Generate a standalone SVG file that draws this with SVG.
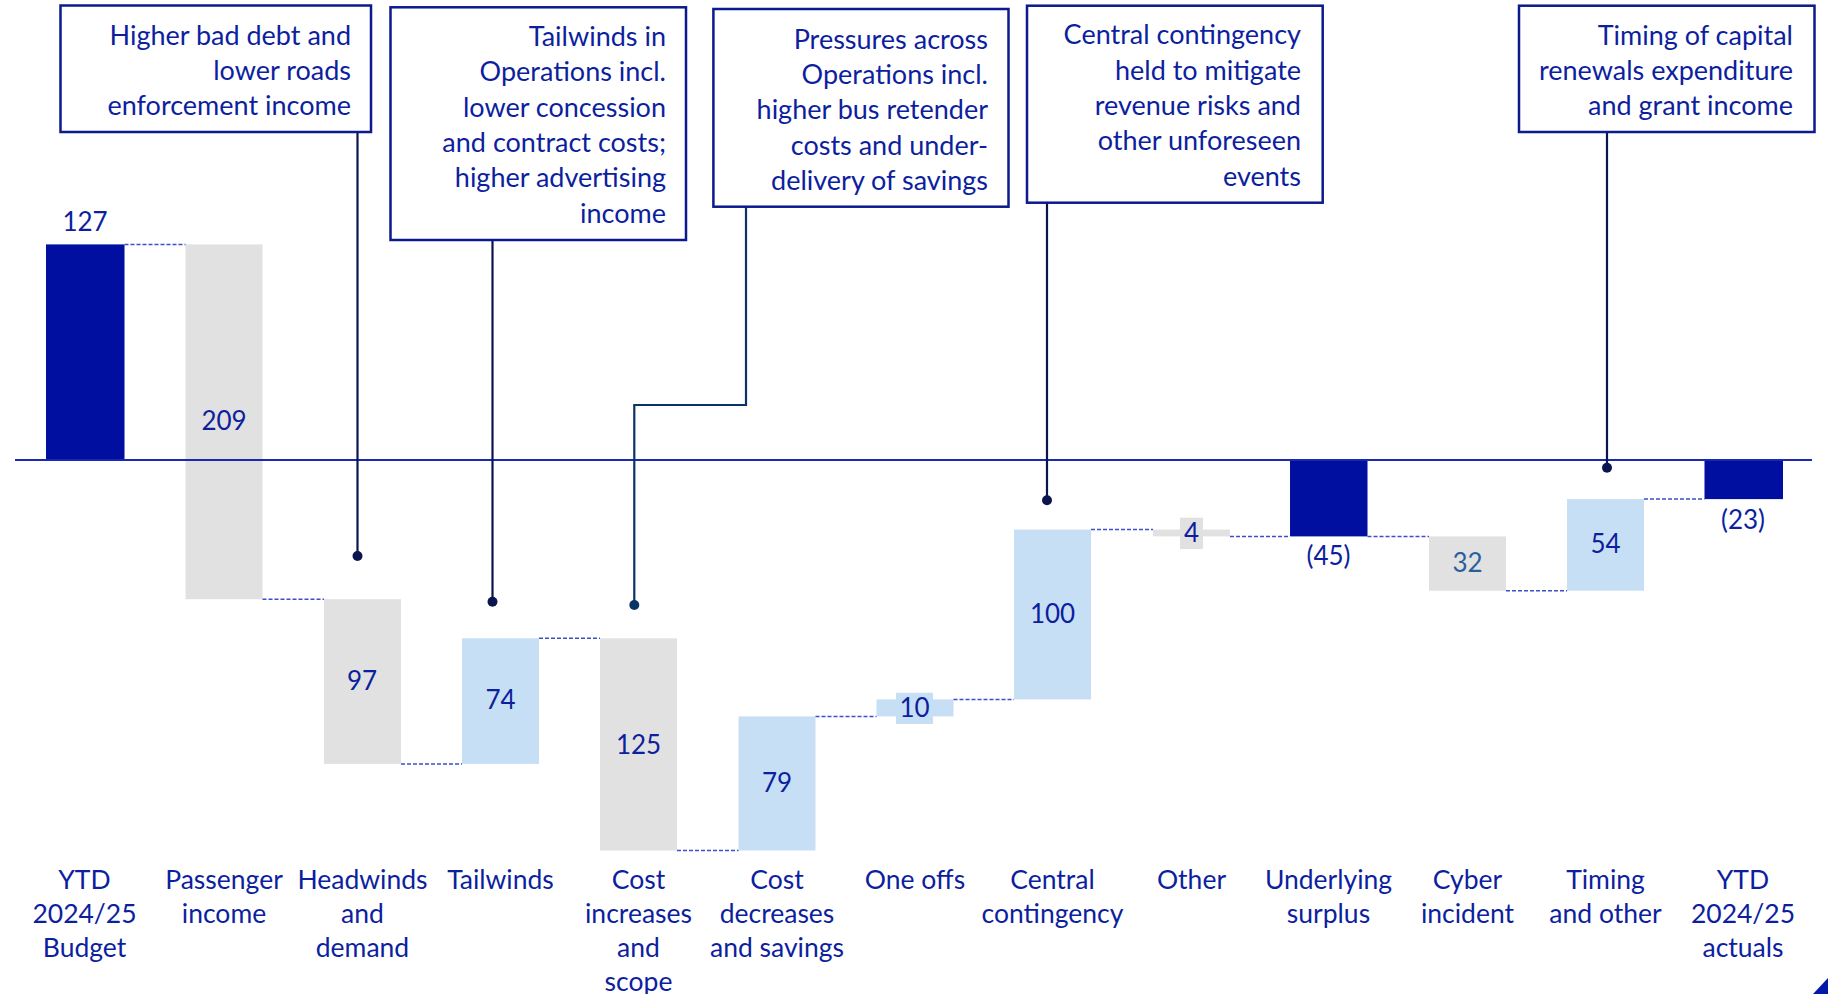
<svg xmlns="http://www.w3.org/2000/svg" width="1828" height="994" viewBox="0 0 1828 994">
<style>
  .txt { font-family: Lato, "Noto Sans", "Liberation Sans", sans-serif; fill: #0D1F9E; }
  .num { font-size: 26px; text-anchor: middle; }
  .cat { font-size: 26.5px; text-anchor: middle; }
  .box { fill: #FFFFFF; stroke: #0B1A8C; stroke-width: 2.5; }
  .btxt { font-size: 27px; text-anchor: end; }
  .dark { fill: #000F9F; }
  .grey { fill: #E1E1E1; }
  .light { fill: #C7DFF4; }
  .dash { stroke: #3A4FC8; stroke-width: 1.5; stroke-dasharray: 4 2; fill: none; }
  .lead { stroke: #0A1550; stroke-width: 2.2; fill: none; }
  .lead2 { stroke: #0A3366; stroke-width: 2.2; fill: none; }
  .dot { fill: #0A1550; }
  .dot2 { fill: #0A3366; }
</style>
<rect x="0" y="0" width="1828" height="994" fill="#FFFFFF"/>

<!-- bars -->
<g id="bar-ytd-budget"><rect class="dark" x="46" y="244.4" width="78.5" height="215.6"/><text class="txt num" x="85" y="231">127</text></g>
<g id="bar-passenger"><rect class="grey" x="185.5" y="244.4" width="77" height="354.8"/><text class="txt num" x="224" y="430">209</text></g>
<g id="bar-headwinds"><rect class="grey" x="324" y="599.2" width="77" height="164.7"/><text class="txt num" x="362" y="690">97</text></g>
<g id="bar-tailwinds"><rect class="light" x="462" y="638.3" width="77" height="125.6"/><text class="txt num" x="500.5" y="709">74</text></g>
<g id="bar-cost-increases"><rect class="grey" x="600" y="638.3" width="77" height="212.2"/><text class="txt num" x="638.5" y="753.5">125</text></g>
<g id="bar-cost-decreases"><rect class="light" x="738.5" y="716.4" width="77" height="134.1"/><text class="txt num" x="777" y="791.5">79</text></g>
<g id="bar-one-offs"><rect class="light" x="876.5" y="699.4" width="77" height="17"/><rect class="light" x="896" y="692.7" width="37" height="31.3"/><text class="txt num" x="914.5" y="717">10</text></g>
<g id="bar-central"><rect class="light" x="1014" y="529.6" width="77" height="169.8"/><text class="txt num" x="1052.5" y="623">100</text></g>
<g id="bar-other"><rect class="grey" x="1153" y="529.6" width="77" height="6.8"/><rect class="grey" x="1180" y="517.7" width="23" height="31.3"/><text class="txt num" x="1191.5" y="542">4</text></g>
<g id="bar-underlying"><rect class="dark" x="1290" y="460" width="77.5" height="76.4"/><text class="txt num" x="1328.5" y="565">(45)</text></g>
<g id="bar-cyber"><rect class="grey" x="1429" y="536.4" width="77" height="54.3"/><text class="txt num" x="1467.5" y="572" style="fill:#2A5F9E">32</text></g>
<g id="bar-timing"><rect class="light" x="1567" y="499.1" width="77" height="91.6"/><text class="txt num" x="1605.5" y="553">54</text></g>
<g id="bar-ytd-actuals"><rect class="dark" x="1704.5" y="460" width="78.5" height="39.1"/><text class="txt num" x="1743" y="528.5">(23)</text></g>

<!-- axis -->
<line x1="15" y1="460" x2="1812" y2="460" stroke="#1A2AB0" stroke-width="2"/>

<!-- connectors -->
<g id="connectors">
  <line class="dash" x1="124.5" y1="244.4" x2="185.5" y2="244.4"/>
  <line class="dash" x1="262.5" y1="599.2" x2="324" y2="599.2"/>
  <line class="dash" x1="401" y1="763.9" x2="462" y2="763.9"/>
  <line class="dash" x1="539" y1="638.3" x2="600" y2="638.3"/>
  <line class="dash" x1="677" y1="850.5" x2="738.5" y2="850.5"/>
  <line class="dash" x1="815.5" y1="716.4" x2="876.5" y2="716.4"/>
  <line class="dash" x1="953.5" y1="699.4" x2="1014" y2="699.4"/>
  <line class="dash" x1="1091" y1="529.6" x2="1153" y2="529.6"/>
  <line class="dash" x1="1230" y1="536.4" x2="1290" y2="536.4"/>
  <line class="dash" x1="1367.5" y1="536.4" x2="1429" y2="536.4"/>
  <line class="dash" x1="1506" y1="590.7" x2="1567" y2="590.7"/>
  <line class="dash" x1="1644" y1="499.1" x2="1704.5" y2="499.1"/>

  <polyline class="lead" points="357.5,132 357.5,556"/>
  <circle class="dot" cx="357.5" cy="556" r="5"/>
  <polyline class="lead" points="492.5,240 492.5,601.7"/>
  <circle class="dot" cx="492.5" cy="601.7" r="5"/>
  <polyline class="lead2" points="746,207 746,405 634.3,405 634.3,605"/>
  <circle class="dot2" cx="634.3" cy="605" r="5"/>
  <polyline class="lead" points="1047,203 1047,500.3"/>
  <circle class="dot" cx="1047" cy="500.3" r="5"/>
  <polyline class="lead" points="1607,132 1607,467.7"/>
  <circle class="dot" cx="1607" cy="467.7" r="5"/>
</g>

<!-- callout boxes -->
<g id="note-bad-debt">
  <rect class="box" x="60.5" y="5.5" width="310.5" height="126.5"/>
  <text class="txt btxt" x="351" y="44.5">Higher bad debt and</text>
  <text class="txt btxt" x="351" y="79.8">lower roads</text>
  <text class="txt btxt" x="351" y="115.1">enforcement income</text>
</g>
<g id="note-tailwinds">
  <rect class="box" x="390.5" y="7.3" width="295.5" height="232.7"/>
  <text class="txt btxt" x="666" y="46">Tailwinds in</text>
  <text class="txt btxt" x="666" y="81.3">Operations incl.</text>
  <text class="txt btxt" x="666" y="116.6">lower concession</text>
  <text class="txt btxt" x="666" y="151.9">and contract costs;</text>
  <text class="txt btxt" x="666" y="187.2">higher advertising</text>
  <text class="txt btxt" x="666" y="222.5">income</text>
</g>
<g id="note-pressures">
  <rect class="box" x="713.4" y="9" width="295.1" height="197.7"/>
  <text class="txt btxt" x="988" y="48.6">Pressures across</text>
  <text class="txt btxt" x="988" y="83.9">Operations incl.</text>
  <text class="txt btxt" x="988" y="119.2">higher bus retender</text>
  <text class="txt btxt" x="988" y="154.5">costs and under-</text>
  <text class="txt btxt" x="988" y="189.8">delivery of savings</text>
</g>
<g id="note-contingency">
  <rect class="box" x="1027" y="5.7" width="295.7" height="197"/>
  <text class="txt btxt" x="1301" y="44.3">Central contingency</text>
  <text class="txt btxt" x="1301" y="79.6">held to mitigate</text>
  <text class="txt btxt" x="1301" y="114.9">revenue risks and</text>
  <text class="txt btxt" x="1301" y="150.2">other unforeseen</text>
  <text class="txt btxt" x="1301" y="185.5">events</text>
</g>
<g id="note-timing">
  <rect class="box" x="1519" y="5.7" width="295.5" height="126.3"/>
  <text class="txt btxt" x="1793" y="44.5">Timing of capital</text>
  <text class="txt btxt" x="1793" y="79.8">renewals expenditure</text>
  <text class="txt btxt" x="1793" y="115.1">and grant income</text>
</g>

<!-- category labels -->
<g id="categories">
  <text class="txt cat" x="84.5" y="888.7">YTD</text>
  <text class="txt cat" x="84.5" y="922.7">2024/25</text>
  <text class="txt cat" x="84.5" y="956.7">Budget</text>
  <text class="txt cat" x="224" y="888.7">Passenger</text>
  <text class="txt cat" x="224" y="922.7">income</text>
  <text class="txt cat" x="362.5" y="888.7">Headwinds</text>
  <text class="txt cat" x="362.5" y="922.7">and</text>
  <text class="txt cat" x="362.5" y="956.7">demand</text>
  <text class="txt cat" x="500.5" y="888.7">Tailwinds</text>
  <text class="txt cat" x="638.5" y="888.7">Cost</text>
  <text class="txt cat" x="638.5" y="922.7">increases</text>
  <text class="txt cat" x="638.5" y="956.7">and</text>
  <text class="txt cat" x="638.5" y="990.7">scope</text>
  <text class="txt cat" x="777" y="888.7">Cost</text>
  <text class="txt cat" x="777" y="922.7">decreases</text>
  <text class="txt cat" x="777" y="956.7">and savings</text>
  <text class="txt cat" x="915" y="888.7">One offs</text>
  <text class="txt cat" x="1052.5" y="888.7">Central</text>
  <text class="txt cat" x="1052.5" y="922.7">contingency</text>
  <text class="txt cat" x="1191.5" y="888.7">Other</text>
  <text class="txt cat" x="1328.5" y="888.7">Underlying</text>
  <text class="txt cat" x="1328.5" y="922.7">surplus</text>
  <text class="txt cat" x="1467.5" y="888.7">Cyber</text>
  <text class="txt cat" x="1467.5" y="922.7">incident</text>
  <text class="txt cat" x="1605.5" y="888.7">Timing</text>
  <text class="txt cat" x="1605.5" y="922.7">and other</text>
  <text class="txt cat" x="1743" y="888.7">YTD</text>
  <text class="txt cat" x="1743" y="922.7">2024/25</text>
  <text class="txt cat" x="1743" y="956.7">actuals</text>
</g>

<polygon points="1813,994 1828,978 1828,994" fill="#0019A8"/>
</svg>
